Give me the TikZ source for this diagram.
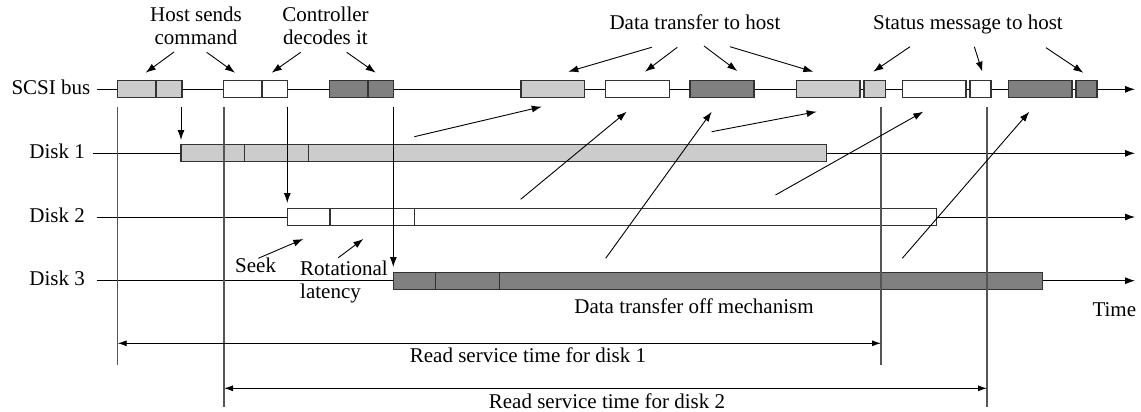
\documentclass[tikz,border=0pt]{standalone}
\usepackage{fontspec}
\setmainfont{Liberation Serif}
\usetikzlibrary{arrows.meta}
\definecolor{lg}{HTML}{CCCCCC}
\definecolor{dg}{HTML}{808080}
\definecolor{edgec}{HTML}{333333}
\definecolor{guidec}{HTML}{555555}
\newcommand\dbox[5]{\node[bx,fill=#5,minimum width={(#3-#2)*1pt}] (#1) at ({(#2+#3)/2},#4) {};}
\newcommand\twolc[2]{\begin{tabular}[t]{@{}c@{}}#1\\#2\end{tabular}}
\newcommand\twoll[2]{\begin{tabular}[t]{@{}l@{}}#1\\#2\end{tabular}}
\begin{document}
\begin{tikzpicture}[x=1pt,y=-1pt,
 txt/.style={inner sep=0pt,font=\fontsize{21}{23}\selectfont},
 bx/.style={draw=edgec,line width=1.2pt,inner sep=0pt,outer sep=0pt,minimum height=17pt},
 dv/.style={draw=edgec,line width=1.2pt},
 arr/.style={line width=0.9pt,-{Latex[length=10pt,width=7pt]}},
 dimarr/.style={line width=0.9pt,{Latex[length=9pt,width=6pt]}-{Latex[length=9pt,width=6pt]}},
 guide/.style={draw=guidec,line width=1.2pt}]
\useasboundingbox (0,0) rectangle (1141,412);

% time lines
\draw[arr] (97,89.3) -- (1135,89.3);
\draw[arr] (92.7,153.3) -- (1135,153.3);
\draw[arr] (96.7,217) -- (1135,217);
\draw[arr] (96.7,280.7) -- (1135,280.7);

% bus boxes
\dbox{b1}{117.7}{182}{89.3}{lg}
\draw[dv] (156,80.8) -- (156,97.8);
\dbox{b2}{223.3}{287.3}{89.3}{white}
\draw[dv] (262,80.8) -- (262,97.8);
\dbox{b3}{329.3}{393.3}{89.3}{dg}
\draw[dv] (368,80.8) -- (368,97.8);
\dbox{b4}{521}{584.3}{89.3}{lg}
\dbox{b5}{605.3}{669.3}{89.3}{white}
\dbox{b6}{690}{754}{89.3}{dg}
\dbox{b7}{796.7}{860}{89.3}{lg}
\dbox{b7s}{864}{885.7}{89.3}{lg}
\dbox{b8}{902.3}{966}{89.3}{white}
\dbox{b8s}{970}{991}{89.3}{white}
\dbox{b9}{1008.3}{1072}{89.3}{dg}
\dbox{b9s}{1076}{1097}{89.3}{dg}

% disk boxes
\dbox{d1}{181}{826.3}{153.3}{lg}
\draw[dv] (244.7,144.8) -- (244.7,161.8);
\draw[dv] (308.7,144.8) -- (308.7,161.8);
\dbox{d2}{287.3}{936.7}{217}{white}
\draw[dv] (330,208.5) -- (330,225.5);
\draw[dv] (414.3,208.5) -- (414.3,225.5);
\dbox{d3}{393.3}{1042.7}{280.7}{dg}
\draw[dv] (435.7,272.2) -- (435.7,289.2);
\draw[dv] (499.3,272.2) -- (499.3,289.2);

% guide lines
\draw[guide] (117.7,106.7) -- (117.7,365);
\draw[guide] (224,106.7) -- (224,407.3);
\draw[guide] (881,106.7) -- (881,365);
\draw[guide] (987,106.7) -- (987,407.3);

% command arrows down to disks
\draw[arr] (181,106.7) -- (181,140);
\draw[arr] (287.3,106.7) -- (287.3,203);
\draw[arr] (393.3,106.7) -- (393.3,267);

% data transfer arrows
\draw[arr] (414.3,136.7) -- (541.7,106.7);
\draw[arr] (520.7,199.3) -- (626.7,111.7);
\draw[arr] (605.7,258.3) -- (711.7,111.7);
\draw[arr] (711.7,131.7) -- (816.7,111.7);
\draw[arr] (775.5,195) -- (923.3,111.7);
\draw[arr] (902.3,258.3) -- (1029.3,111.7);

% seek / rotational
\draw[arr] (258.3,258.3) -- (303.3,239);
\draw[arr] (338.3,257.7) -- (363.3,239);

% top label arrows
\draw[arr] (174,52) -- (145.7,72.7);
\draw[arr] (206.7,52.3) -- (235,72.7);
\draw[arr] (300.7,52.3) -- (271.7,72.7);
\draw[arr] (346.7,52.3) -- (375.7,72.7);
\draw[arr] (651.7,47.3) -- (568.3,71.7);
\draw[arr] (677.3,47.3) -- (645,71.7);
\draw[arr] (704,46) -- (737.3,71);
\draw[arr] (730,46.7) -- (813.3,71.7);
\draw[arr] (910,46.7) -- (873.3,71.7);
\draw[arr] (974.3,46.7) -- (982.3,71.7);
\draw[arr] (1046,47.7) -- (1083.3,72.7);

% dimension arrows
\draw[dimarr] (117.7,343.3) -- (881,343.3);
\draw[dimarr] (224,388.3) -- (987,388.3);

% texts
\node[txt,anchor=base east] (tbus) at (90.5,94.3) {SCSI bus};
\node[txt,anchor=base east] (td1) at (85,158.5) {Disk 1};
\node[txt,anchor=base east] (td2) at (85,222) {Disk 2};
\node[txt,anchor=base east] (td3) at (85,285.7) {Disk 3};
\node[txt,anchor=base] (thost) at (196,21.7) {\twolc{Host sends}{command}};
\node[txt,anchor=base] (tctrl) at (325.5,21.7) {\twolc{Controller}{decodes it}};
\node[txt,anchor=base] (tdata) at (695,29.3) {Data transfer to host};
\node[txt,anchor=base] (tstat) at (968,29.3) {Status message to host};
\node[txt,anchor=base west] (tseek) at (235,272.7) {Seek};
\node[txt,anchor=base west] (trot) at (300,275.7) {\twoll{Rotational}{latency}};
\node[txt,anchor=base] (toff) at (694,313.3) {Data transfer off mechanism};
\node[txt,anchor=base west] (ttime) at (1092.3,316.7) {Time};
\node[txt,anchor=base] (tr1) at (528,362.7) {Read service time for disk 1};
\node[txt,anchor=base] (tr2) at (607,408.3) {Read service time for disk 2};
\end{tikzpicture}
\end{document}
